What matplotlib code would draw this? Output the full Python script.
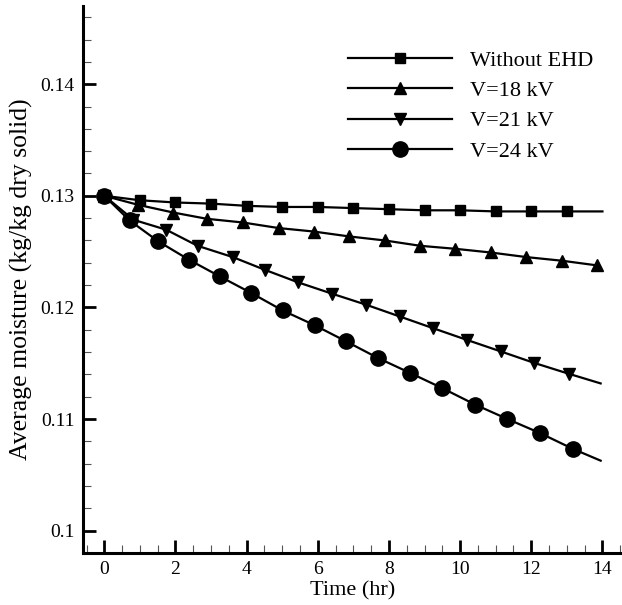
import matplotlib
matplotlib.use("Agg")
import matplotlib.pyplot as plt
from matplotlib.ticker import MultipleLocator, FuncFormatter

plt.rcParams['font.family'] = ['Liberation Serif', 'DejaVu Serif']
plt.rcParams['mathtext.fontset'] = 'stix'

# Data
t_none = [0, 1, 2, 3, 4, 5, 6, 7, 8, 9, 10, 11, 12, 13, 14]
m_none = [0.1300, 0.1296, 0.1294, 0.1293, 0.1291, 0.1290, 0.1290, 0.1289,
          0.1288, 0.1287, 0.1287, 0.1286, 0.1286, 0.1286, 0.1286]

t_18 = [0, 0.95, 1.94, 2.88, 3.89, 4.90, 5.88, 6.88, 7.88, 8.88, 9.87, 10.86, 11.86, 12.87, 13.86]
m_18 = [0.1300, 0.12919, 0.12850, 0.12794, 0.12761, 0.12711, 0.12680, 0.12636,
        0.12600, 0.12552, 0.12525, 0.12492, 0.12451, 0.12418, 0.12376]

t_21 = [0, 0.82, 1.74, 2.62, 3.61, 4.51, 5.45, 6.41, 7.36, 8.30, 9.23, 10.18, 11.14, 12.09, 13.05, 13.95]
m_21 = [0.1300, 0.12785, 0.12696, 0.12552, 0.12451, 0.12337, 0.12224, 0.12122, 0.12024,
        0.11919, 0.11815, 0.11710, 0.11606, 0.11502, 0.11406, 0.11319]

t_24 = [0, 0.71, 1.52, 2.38, 3.25, 4.13, 5.01, 5.92, 6.80, 7.69, 8.60, 9.49, 10.43, 11.33, 12.24, 13.16, 13.95]
m_24 = [0.1300, 0.12779, 0.12591, 0.12427, 0.12277, 0.12129, 0.11973, 0.11839, 0.11695,
        0.11547, 0.11412, 0.11278, 0.11128, 0.11000, 0.10875, 0.10734, 0.10627]

labels = ['Without EHD', 'V=18 kV', 'V=21 kV', 'V=24 kV']

fig = plt.figure(figsize=(6.22, 6.05), dpi=100)
ax = fig.add_axes([0.1334, 0.086, 0.8666, 0.904])

lw = 1.6
ax.plot(t_none, m_none, '-', color='black', lw=lw, marker='s', markersize=7,
        markevery=list(range(len(t_none) - 1)), label=labels[0], zorder=3)
ax.plot(t_18, m_18, '-', color='black', lw=lw, marker='^', markersize=9,
        label=labels[1], zorder=3)
ax.plot(t_21, m_21, '-', color='black', lw=lw, marker='v', markersize=9,
        markevery=list(range(len(t_21) - 1)), label=labels[2], zorder=3)
ax.plot(t_24, m_24, '-', color='black', lw=lw, marker='o', markersize=11,
        markevery=list(range(len(t_24) - 1)), label=labels[3], zorder=4)

ax.set_xlim(-0.6, 14.55)
ax.set_ylim(0.098, 0.147)

ax.spines['top'].set_visible(False)
ax.spines['right'].set_visible(False)
ax.spines['left'].set_linewidth(2.2)
ax.spines['bottom'].set_linewidth(2.2)

ax.xaxis.set_major_locator(MultipleLocator(2))
ax.xaxis.set_minor_locator(MultipleLocator(0.5))
ax.yaxis.set_major_locator(MultipleLocator(0.01))
ax.yaxis.set_minor_locator(MultipleLocator(0.002))
ax.yaxis.set_major_formatter(FuncFormatter(lambda v, p: '%g' % round(v, 4)))
ax.xaxis.set_major_formatter(FuncFormatter(lambda v, p: '%g' % round(v, 4)))

ax.tick_params(which='major', direction='in', length=9.5, width=2.0, labelsize=14, pad=6)
ax.tick_params(which='minor', direction='in', length=5.5, width=0.8, color='#555555')

ax.set_xlabel('Time (hr)', fontsize=16, labelpad=2)
ax.set_ylabel('Average moisture (kg/kg dry solid)', fontsize=18.5, labelpad=5)

leg = ax.legend(loc='upper left', bbox_to_anchor=(0.5595, 0.917), bbox_transform=fig.transFigure,
                frameon=False, fontsize=16, handlelength=4.7, handletextpad=0.8,
                labelspacing=0.44, borderpad=0, borderaxespad=0)

fig.savefig('out.png', dpi=100)
